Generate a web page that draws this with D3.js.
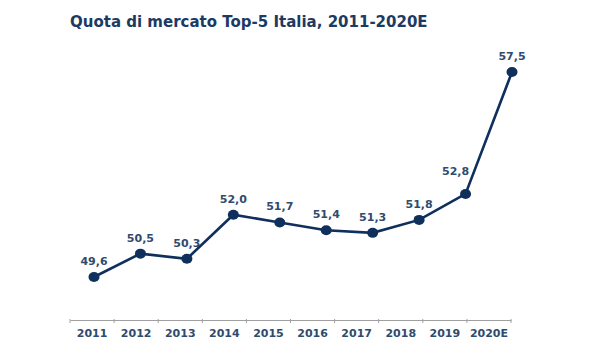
<!DOCTYPE html>
<html><head><meta charset="utf-8">
<script src="https://cdn.jsdelivr.net/npm/d3@7"></script>
<style>body{margin:0;background:#fff}svg{display:block}</style>
</head><body>
<svg id="c" width="600" height="360"></svg>
<script>
const categories = ["2011","2012","2013","2014","2015","2016","2017","2018","2019","2020E"];
const values = [49.6, 50.5, 50.3, 52.0, 51.7, 51.4, 51.3, 51.8, 52.8, 57.5];
const title = "Quota di mercato Top-5 Italia, 2011-2020E";

const svg = d3.select("#c");
const navy = "#0f2f5c", lab = "#2f4b6e";
const font = "'DejaVu Sans', Verdana, sans-serif";

const xAxisScale = d3.scaleBand().domain(categories).range([70, 511]);
const xPt = d3.scalePoint().domain(categories).range([94, 512]);
const y = d3.scaleLinear().domain([48, 58]).range([318.5, 59]);

svg.append("text").attr("x", 70).attr("y", 27)
  .attr("font-family", font).attr("font-weight", "bold").attr("font-size", 15)
  .attr("fill", "#1d3a63").text(title);

const ax = svg.append("g").attr("transform", "translate(0,320)")
  .call(d3.axisBottom(xAxisScale).tickSize(0).tickPadding(0));
ax.select(".domain").attr("stroke", "#a0a0a0").attr("stroke-width", 1);
ax.selectAll(".tick text").remove();
// tick marks at band edges
const edges = categories.map(c => xAxisScale(c)).concat([xAxisScale.range()[1]]);
ax.selectAll("line.edge").data(edges).enter().append("line")
  .attr("x1", d => d).attr("x2", d => d).attr("y1", -1).attr("y2", 3)
  .attr("stroke", "#a0a0a0");
ax.selectAll("text.lbl").data(categories).enter().append("text")
  .attr("x", d => xAxisScale(d) + xAxisScale.bandwidth() / 2).attr("y", 17)
  .attr("text-anchor", "middle").attr("font-family", font).attr("font-weight", "bold")
  .attr("font-size", 11).attr("fill", lab).text(d => d);

const pts = categories.map((c, i) => ({c, v: values[i]}));
svg.append("path").datum(pts)
  .attr("d", d3.line().x(d => xPt(d.c)).y(d => y(d.v)))
  .attr("fill", "none").attr("stroke", navy).attr("stroke-width", 2.6);
svg.selectAll("ellipse.p").data(pts).enter().append("ellipse")
  .attr("cx", d => xPt(d.c)).attr("cy", d => y(d.v)).attr("rx", 5.5).attr("ry", 5)
  .attr("fill", navy);
const fmt = v => d3.format(".1f")(v).replace(".", ",");
svg.selectAll("text.v").data(pts).enter().append("text")
  .attr("x", (d, i) => xPt(d.c) + (i === 8 ? -10 : 0))
  .attr("y", (d, i) => y(d.v) - (i === 8 ? 19 : 12))
  .attr("text-anchor", "middle").attr("font-family", font).attr("font-weight", "bold")
  .attr("font-size", 11).attr("fill", lab).text(d => fmt(d.v));
</script>
</body></html>
